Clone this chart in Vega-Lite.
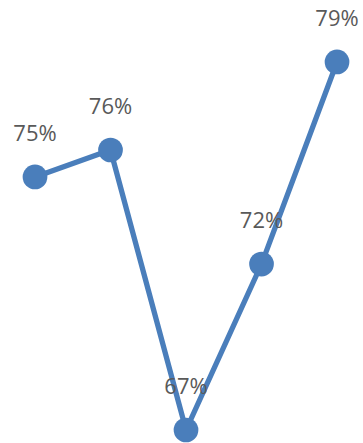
{
  "$schema": "https://vega.github.io/schema/vega-lite/v6.json",
  "width": 363,
  "height": 443,
  "autosize": {"type": "fit", "contains": "padding"},
  "padding": 0,
  "background": "white",
  "config": {"view": {"stroke": null}},
  "data": {"values": [
    {"i": 0, "v": 0.7525},
    {"i": 1, "v": 0.7613},
    {"i": 2, "v": 0.6700},
    {"i": 3, "v": 0.7241},
    {"i": 4, "v": 0.7900}
  ]},
  "encoding": {
    "x": {"field": "i", "type": "quantitative", "scale": {"domain": [-0.4636, 4.344], "nice": false, "zero": false}, "axis": null},
    "y": {"field": "v", "type": "quantitative", "scale": {"domain": [0.66576, 0.8102], "nice": false, "zero": false}, "axis": null}
  },
  "layer": [
    {"mark": {"type": "line", "color": "#4a7ebb", "strokeWidth": 5.3, "clip": false}},
    {"mark": {"type": "circle", "color": "#4a7ebb", "opacity": 1, "size": 610, "clip": false}},
    {"mark": {"type": "text", "dy": -43, "baseline": "middle", "align": "center", "font": "Open Sans", "fontSize": 22, "color": "#595959"},
     "encoding": {"text": {"field": "v", "type": "quantitative", "format": ".0%"}}}
  ]
}
